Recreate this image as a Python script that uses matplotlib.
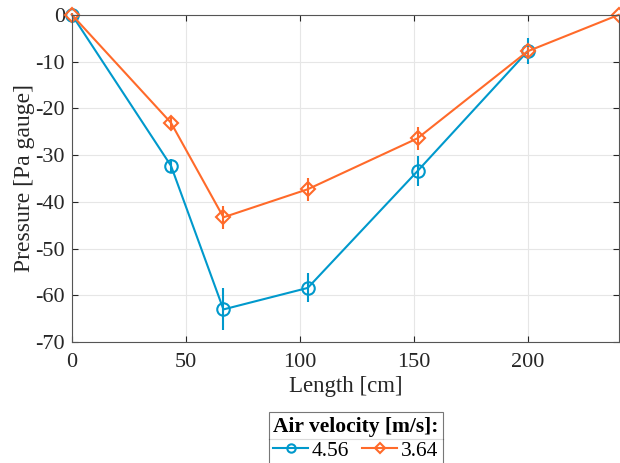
import matplotlib
matplotlib.use('Agg')
import matplotlib.pyplot as plt
from matplotlib.lines import Line2D

plt.rcParams['font.family'] = ['Liberation Serif', 'DejaVu Serif']
plt.rcParams['axes.unicode_minus'] = False

# measured data
length_a = [0, 43.5, 66.5, 103.5, 151.7, 200]
press_a = [0, -32.3, -63.0, -58.4, -33.4, -7.8]
err_a = [0.3, 1.5, 4.5, 3.1, 3.2, 2.8]

length_b = [0, 43.5, 66.5, 103.5, 151.7, 200, 240]
press_b = [0, -23.1, -43.3, -37.3, -26.4, -7.8, 0]
err_b = [0.3, 1.3, 2.5, 2.5, 2.5, 1.0, 0]

labels = ['4.56', '3.64']
col_a = '#0099cc'
col_b = '#ff6a2a'

fig = plt.figure(figsize=(6.2, 4.63), dpi=100)
ax = fig.add_axes([0.116, 0.261, 0.882, 0.707])

for xs, ys, es, c, m, s, lab in [(length_a, press_a, err_a, col_a, 'o', 9, labels[0]),
                                 (length_b, press_b, err_b, col_b, 'D', 7, labels[1])]:
    art = ax.errorbar(xs, ys, yerr=es, color=c, marker=m, ms=s, mfc='none', mew=1.5,
                      lw=1.5, elinewidth=1.5, capsize=0, label=lab)
    for a in art.lines[0:1] + tuple(art.lines[2]):
        a.set_clip_on(False)

ax.set_xlim(0, 240)
ax.set_ylim(-70, 0)
ax.set_xticks([0, 50, 100, 150, 200])
ax.set_yticks(range(-70, 1, 10))
ax.grid(True, color='#e6e6e6', lw=0.8)
ax.set_axisbelow(True)
ax.tick_params(direction='in', top=True, right=True, labelsize=16,
               colors='#262626', length=4, width=0.8)
ax.tick_params(axis='x', pad=8)
ax.tick_params(axis='y', pad=5)
for s in ax.spines.values():
    s.set_color('#555555')
    s.set_linewidth(0.8)
ax.set_xlabel('Length [cm]', fontsize=16.5, color='#262626', labelpad=3)
ax.set_ylabel('Pressure [Pa gauge]', fontsize=17, color='#262626', labelpad=0)

handles = [Line2D([], [], color=col_a, marker='o', ms=6, mfc='none', mew=1.5, lw=1.5),
           Line2D([], [], color=col_b, marker='D', ms=5, mfc='none', mew=1.5, lw=1.5)]
leg = fig.legend(handles, labels, loc='lower center', bbox_to_anchor=(0.574, -0.005),
                 ncol=2, fontsize=15.5, title='Air velocity [m/s]:',
                 title_fontproperties={'weight': 'bold', 'size': 15.5},
                 frameon=True, fancybox=False, edgecolor='#555555',
                 handlelength=1.6, handletextpad=0.2, columnspacing=0.6,
                 borderpad=0.2, borderaxespad=0.0, labelspacing=0.2)
leg.get_frame().set_linewidth(0.8)

fig.canvas.draw()
r = fig.canvas.get_renderer()
fb = leg.get_frame().get_window_extent(r)
tb = leg.get_title().get_window_extent(r)
inv = fig.transFigure.inverted()
(x0, y0), (x1, y1) = inv.transform([[fb.x0, tb.y0 - 2], [fb.x1, tb.y0 - 2]])
fig.add_artist(Line2D([x0, x1], [y0, y1], color='#555555', lw=0.8,
                      transform=fig.transFigure))

fig.savefig('out.png', dpi=100)
